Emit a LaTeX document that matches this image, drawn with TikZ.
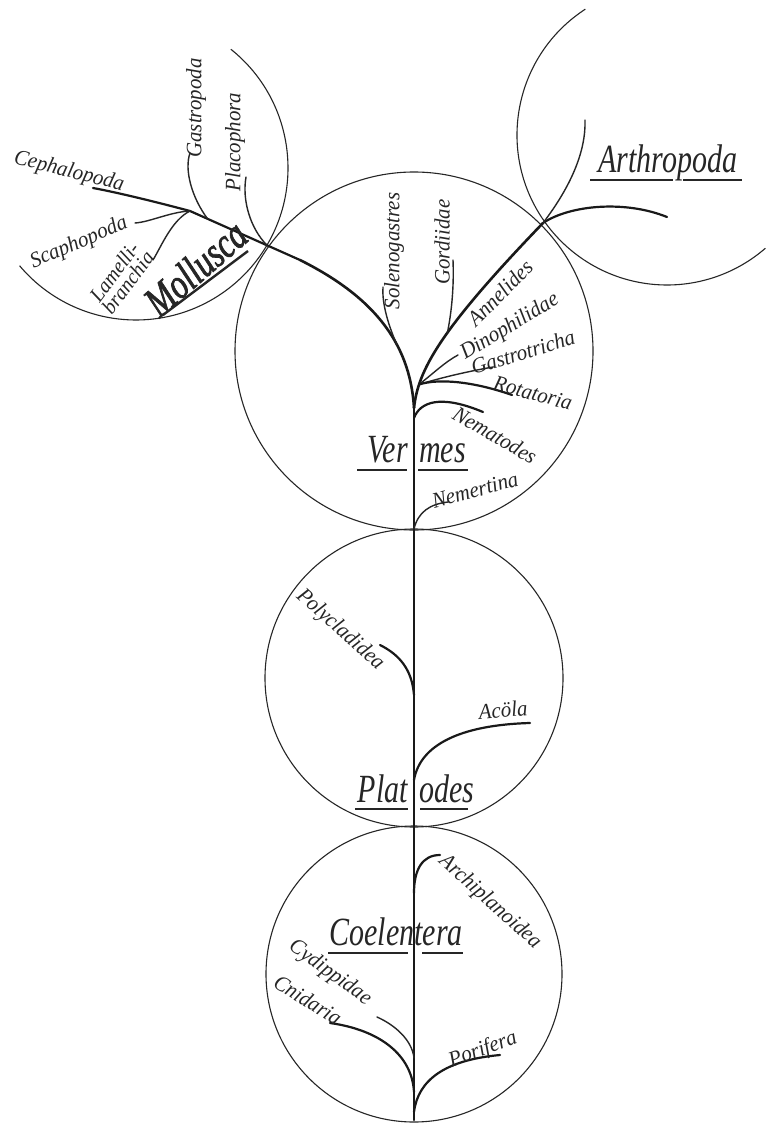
\documentclass[tikz,border=0pt]{standalone}
\usepackage{fontspec}
\newfontfamily\labfont[FakeStretch=0.95]{Liberation Serif}
\newfontfamily\bigfont[FakeStretch=0.75]{Liberation Serif}
\newfontfamily\heavyfont[FakeStretch=0.75, FakeBold=1.6]{Liberation Serif}
\begin{document}
\begin{tikzpicture}[x=1pt,y=-1pt,
  ring/.style={line width=1.1pt, draw=black!85},
  stem/.style={line width=2.6pt, line cap=round, draw=black!90},
  limb/.style={line width=2.2pt, line cap=round, draw=black!90},
  twig/.style={line width=1.4pt, line cap=round, draw=black!85},
  small/.style={font=\labfont\itshape\fontsize{22}{20}\selectfont, inner sep=0pt, text=black!85},
  big/.style={font=\bigfont\itshape\fontsize{40}{40}\selectfont, inner sep=0pt, text=black!85},
  uline/.style={line width=1.6pt, draw=black!85}]

% canvas
\fill[white] (0,0) rectangle (765,1123);
\path[use as bounding box] (0,0) rectangle (765,1123);

% the five spheres
\draw[ring] (414,974) circle[radius=148];
\draw[ring] (414,678) circle[radius=149];
\draw[ring] (414,351) circle[radius=179];
\draw[ring] (136,168) ++(-51.4:152) arc[start angle=-51.4, end angle=140, radius=152];
\draw[ring] (667,135) ++(237:150) arc[start angle=237, end angle=49, radius=150];

% key points of the stem
\coordinate (root) at (414,1120);
\coordinate (fork) at (414,408);
\coordinate (molJ) at (190,211);
\coordinate (artJ) at (543,223);

% trunk
\draw[stem] (root) -- (fork);

% branch towards the Arthropoda
\draw[stem] (fork) .. controls (418,370) and (440,330) .. (artJ)
  coordinate[pos=0.2] (rJ) coordinate[pos=0.55] (gJ);
\coordinate (artE) at (667,217);
\coordinate (artU) at (585,120);
\draw[limb] (artJ) .. controls (570,205) and (625,200) .. (artE);
\draw[twig] (artJ) .. controls (572,185) and (586,150) .. (artU);

% branch towards the Mollusca
\coordinate (molM) at (300,260);
\draw[stem] (fork) .. controls (410,340) and (370,295) .. (molM)
  coordinate[pos=0.35] (sJ);
\draw[limb] (molM) -- (molJ) coordinate[pos=0.3] (plJ) coordinate[pos=0.84] (gaJ);

% Mollusca twigs
\coordinate (cepE) at (93,188);
\coordinate (scaE) at (135,223);
\coordinate (lamE) at (153,260);
\coordinate (gasE) at (190,153);
\coordinate (plaE) at (246,177);
\draw[limb] (molJ) .. controls (160,203) and (120,193) .. (cepE);
\draw[twig] (molJ) .. controls (170,212) and (150,222) .. (scaE);
\draw[twig] (molJ) .. controls (172,220) and (162,245) .. (lamE);
\draw[twig] (gaJ) .. controls (192,198) and (184,170) .. (gasE);
\draw[twig] (plJ) .. controls (250,228) and (242,200) .. (plaE);

% Vermes twigs
\coordinate (solE) at (383,287);
\coordinate (gorE) at (453,260);
\coordinate (dinE) at (458,355);
\coordinate (gasT) at (493,367);
\coordinate (rotE) at (512,395);
\coordinate (nemJ) at (414,418);
\coordinate (nemE) at (483,412);
\coordinate (nmtJ) at (414,529);
\coordinate (nmtE) at (448,502);
\draw[twig] (sJ) .. controls (386,320) and (382,300) .. (solE);
\draw[twig] (gJ) .. controls (452,310) and (454,285) .. (gorE);
\draw[twig] (rJ) .. controls (435,372) and (445,362) .. (dinE);
\draw[twig] (rJ) .. controls (440,378) and (465,372) .. (gasT);
\draw[limb] (rJ) .. controls (440,378) and (475,382) .. (rotE);
\draw[limb] (nemJ) .. controls (420,402) and (440,394) .. (nemE);
\draw[twig] (nmtJ) .. controls (418,512) and (430,504) .. (nmtE);

% Platodes twigs
\coordinate (polJ) at (414,695);
\coordinate (polE) at (380,645);
\coordinate (acoJ) at (414,780);
\coordinate (acoE) at (530,723);
\draw[limb] (polJ) .. controls (412,670) and (400,655) .. (polE);
\draw[limb] (acoJ) .. controls (420,745) and (460,725) .. (acoE);

% Coelentera twigs
\coordinate (arcJ) at (414,893);
\coordinate (arcE) at (440,855);
\coordinate (cydJ) at (414,1058);
\coordinate (cydE) at (377,1017);
\coordinate (cniJ) at (414,1092);
\coordinate (cniE) at (330,1023);
\coordinate (porJ) at (414,1112);
\coordinate (porE) at (500,1055);
\draw[limb] (arcJ) .. controls (414,870) and (422,855) .. (arcE);
\draw[twig] (cydJ) .. controls (412,1040) and (395,1025) .. (cydE);
\draw[limb] (cniJ) .. controls (412,1055) and (380,1030) .. (cniE);
\draw[limb] (porJ) .. controls (418,1080) and (445,1060) .. (porE);

% group names
\node[big, anchor=base east] (verL) at (408,462) {Ver};
\node[big, anchor=base west] (verR) at (419,462) {mes};
\draw[uline] (357,470) -- (407,470);
\draw[uline] (418,470) -- (468,470);

\node[big, anchor=base east] (plaL) at (408,802) {Plat};
\node[big, anchor=base west] (plaR) at (419,802) {odes};
\draw[uline] (355,809) -- (408,809);
\draw[uline] (420,809) -- (468,809);

\node[big, anchor=base] (coel) at (396,945) {Coelentera};
\draw[uline] (328,953) -- (408,953);
\draw[uline] (422,953) -- (463,953);

\node[big, anchor=base] (arth) at (668,173) {Arthropoda};
\draw[uline] (590,180) -- (673,180);
\draw[uline] (683,180) -- (742,180);

\node[big, font=\heavyfont\itshape\fontsize{43}{43}\selectfont, rotate=41, anchor=base] (moll) at (205,279) {Mollusca};
\draw[line width=2.4pt, draw=black!85] (163,315) -- (248,251);

% taxa
\node[small, rotate=-14] (cep) at (69,172) {Cephalopoda};
\node[small, rotate=23] (sca) at (79,243) {Scaphopoda};
\node[small, rotate=53, align=center, font=\labfont\itshape\fontsize{21}{17}\selectfont] (lam) at (121,277) {Lamelli-\\branchia};
\node[small, rotate=90] (gas) at (196,108) {Gastropoda};
\node[small, rotate=90] (pla) at (235,142) {Placophora};

\node[small, rotate=90] (sol) at (394,251) {Solenogastres};
\node[small, rotate=90] (gor) at (442,242) {Gordiidae};
\node[small, rotate=45] (ann) at (500,293) {Annelides};
\node[small, rotate=31] (din) at (510,327) {Dinophilidae};
\node[small, rotate=17] (gst) at (523,352) {Gastrotricha};
\node[small, rotate=-15] (rot) at (533,393) {Rotatoria};
\node[small, rotate=-30] (nem) at (495,435) {Nematodes};
\node[small, rotate=15] (nmt) at (475,490) {Nemertina};

\node[small, rotate=-42] (pol) at (340,630) {Polycladidea};
\node[small, rotate=5] (aco) at (503,710) {Acöla};

\node[small, rotate=-42] (arc) at (490,902) {Archiplanoidea};
\node[small, rotate=-36] (cyd) at (330,973) {Cydippidae};
\node[small, rotate=-32] (cni) at (308,1000) {Cnidaria};
\node[small, rotate=20] (por) at (483,1050) {Porifera};
\end{tikzpicture}
\end{document}
